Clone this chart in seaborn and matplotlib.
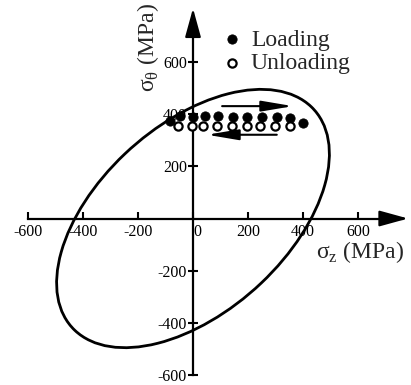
import numpy as np
import pandas as pd
import matplotlib
matplotlib.use("Agg")
import matplotlib.pyplot as plt
from matplotlib.patches import Ellipse
import seaborn as sns

# ---- data ----
load_sz = [-84, -47, 0, 44, 91, 146, 197, 251, 306, 353, 401]
load_st = [374, 394, 392, 394, 394, 392, 392, 392, 390, 388, 366]
unload_sz = [-55, -4, 36, 87, 142, 197, 244, 299, 353]
unload_st = [357, 357, 357, 357, 357, 357, 357, 357, 357]
yield_stress = 430.0  # von Mises ellipse: sz^2 - sz*st + st^2 = sy^2
xticks = [-600, -400, -200, 0, 200, 400, 600]
yticks = [-600, -400, -200, 200, 400, 600]

sns.set_theme(style="white")
plt.rcParams["font.family"] = ["Liberation Serif", "DejaVu Serif"]
plt.rcParams["mathtext.fontset"] = "custom"
plt.rcParams["mathtext.rm"] = "Liberation Serif"
plt.rcParams["axes.unicode_minus"] = False

fig = plt.figure(figsize=(4.11, 3.85), dpi=100)
ax = fig.add_axes([0, 0, 1, 1])
ax.set_facecolor("white")

load_df = pd.DataFrame({"sz": load_sz, "st": load_st})
unload_df = pd.DataFrame({"sz": unload_sz, "st": unload_st})

# yield ellipse
ell = Ellipse((0, 0), width=2 * yield_stress * np.sqrt(2),
              height=2 * yield_stress * np.sqrt(2 / 3), angle=45,
              fill=False, lw=2.0, ec="black", zorder=2)
ax.add_patch(ell)

sns.scatterplot(data=load_df, x="sz", y="st", ax=ax, color="black",
                edgecolor="black", s=45, marker="o", label="Loading", zorder=4)
sns.scatterplot(data=unload_df, x="sz", y="st", ax=ax, color="white",
                edgecolor="black", linewidth=1.6, s=35, marker="o",
                label="Unloading", zorder=4)

ax.set_xlim(-702.6, 793.6)
ax.set_ylim(-640, 840)

# axes through origin
for s in ["top", "right"]:
    ax.spines[s].set_visible(False)
ax.spines["left"].set_position(("data", 0))
ax.spines["bottom"].set_position(("data", 0))
ax.spines["left"].set_bounds(-600, 780)
ax.spines["bottom"].set_bounds(-600, 760)
for s in ["left", "bottom"]:
    ax.spines[s].set_color("black")
    ax.spines[s].set_linewidth(1.6)
    ax.spines[s].set_zorder(3)

ax.set_xticks(xticks)
ax.set_xticklabels([str(t) for t in xticks])
ax.set_yticks(yticks)
ax.set_yticklabels([str(t) for t in yticks])
ax.tick_params(axis="x", direction="in", length=5, width=1.5, pad=4,
               labelsize=11.5, colors="black", bottom=True)
ax.tick_params(axis="y", direction="inout", length=7, width=1.5, pad=1,
               labelsize=11.5, colors="black", left=True)
for lab in ax.get_xticklabels():
    if lab.get_text() == "0":
        lab.set_horizontalalignment("left")
ax.set_xlabel("")
ax.set_ylabel("")

# axis arrowheads
head = dict(arrowstyle="-|>,head_length=0.8,head_width=0.22",
            color="black", lw=1.6, mutation_scale=22, shrinkA=0, shrinkB=0)
ax.annotate("", xy=(783, 0), xytext=(740, 0), arrowprops=head)
ax.annotate("", xy=(0, 808), xytext=(0, 750), arrowprops=head)

# loading / unloading direction arrows
arr = dict(arrowstyle="-|>,head_length=0.95,head_width=0.16",
           color="black", lw=1.5, mutation_scale=20, shrinkA=0, shrinkB=0)
ax.annotate("", xy=(364, 432), xytext=(106, 432), arrowprops=arr)
ax.annotate("", xy=(51, 322), xytext=(305, 322), arrowprops=arr)

# axis labels
ax.text(608, -128, r"$\mathrm{σ}_\mathrm{z}$ (MPa)", fontsize=17,
        ha="center", va="center")
ax.text(-164, 659, r"$\mathrm{σ}_\mathrm{θ}$ (MPa)", fontsize=17,
        rotation=90, ha="center", va="center")

ax.legend(loc="upper left", bbox_to_anchor=(219 / 411, 1 - 29 / 385),
          frameon=False, fontsize=17, handletextpad=0.25, labelspacing=0.08,
          borderaxespad=0, borderpad=0, handlelength=1.1)

fig.savefig("out.png", dpi=100)
